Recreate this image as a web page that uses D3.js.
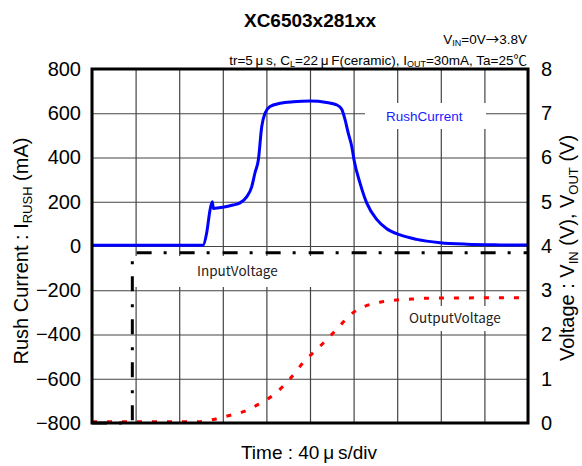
<!DOCTYPE html>
<html><head><meta charset="utf-8">
<script src="https://cdn.jsdelivr.net/npm/d3@7"></script>
<style>
html,body{margin:0;padding:0;background:#fff;}
svg{display:block;font-family:"Liberation Sans",Arial,sans-serif;}
</style></head>
<body>
<svg id="chart" width="582" height="466"></svg>
<script>
// ---- data ----
const timeTicks = [0,40,80,120,160,200,240,280,320,360,400]; // µs (40 µs/div)
const currentTicks = [-800,-600,-400,-200,0,200,400,600,800];
const voltageTicks = [0,1,2,3,4,5,6,7,8];

const rushT = [0,99,102,105.2,108.3,110.4,111.3,120.2,129.3,135.8,141.9,146.5,149.5,152.6,155.7,158.7,163.3,172.5,184.7,200,215.3,224.5,229.1,232.1,235.1,238.3,240.4,245.9,252,261.2,270.4,282.6,297.9,319.3,343.8,374.3,400];
const rushI = [3,3,4,59,163,200,170,175,185,195,222,267,330,389,539,600,630,645,652,655,649,638,618,572,510,450,389,284,195,120,78,50,30,15,8,5,4];

const vinT = [0,37,37,400];
const vinV = [0,0,3.85,3.85];

const voutT = [0,99,111.3,125,138.8,152.6,167.9,181.7,195.4,206.1,216.8,227.5,237.3,249.5,264.2,279.5,293.3,307,334.6,362.1,400];
const voutV = [0.03,0.03,0.08,0.165,0.255,0.42,0.66,1.0,1.41,1.66,1.92,2.2,2.45,2.63,2.73,2.78,2.8,2.82,2.825,2.83,2.83];

// ---- layout ----
const L = 92, R = 528, T = 69, B = 423;
const svg = d3.select("#chart");
const x = d3.scaleLinear().domain([0,400]).range([L,R]);
const yL = d3.scaleLinear().domain([-800,800]).range([B,T]);
const yR = d3.scaleLinear().domain([0,8]).range([B,T]);
const JP = "'Noto Sans CJK JP','Liberation Sans',sans-serif";

// grid
svg.append("g").attr("transform",`translate(0,${B})`)
  .call(d3.axisBottom(x).tickValues(timeTicks).tickSize(-(B-T)).tickFormat(""))
  .call(g=>g.select(".domain").remove())
  .call(g=>g.selectAll("line").attr("stroke","#444").attr("stroke-width",1.2));
svg.append("g").attr("transform",`translate(${L},0)`)
  .call(d3.axisLeft(yL).tickValues(currentTicks).tickSize(-(R-L)).tickFormat(""))
  .call(g=>g.select(".domain").remove())
  .call(g=>g.selectAll("line").attr("stroke","#444").attr("stroke-width",1.2));

// label boxes (cover grid)
const boxes = [
  {x0:365,x1:486,y0:103,y1:129,text:"RushCurrent",tx:386,color:"#1a1aff",font:"'Liberation Sans',Arial,sans-serif",size:13.5},
  {x0:135,x1:340,y0:256,y1:287,text:"InputVoltage",tx:197,color:"#222",font:JP,size:13.5},
  {x0:400,x1:526,y0:306,y1:331,text:"OutputVoltage",tx:409,color:"#222",font:JP,size:13.5}
];
boxes.forEach(b=>{
  svg.append("rect").attr("x",b.x0).attr("y",b.y0).attr("width",b.x1-b.x0).attr("height",b.y1-b.y0).attr("fill","#fff");
  svg.append("text").attr("x",b.tx).attr("y",(b.y0+b.y1)/2).attr("dy","0.35em")
    .attr("font-family",b.font).attr("font-size",b.size).attr("fill",b.color).text(b.text);
});

// curves
const lineI = d3.line().x((d,i)=>x(rushT[i])).y(d=>yL(d)).curve(d3.curveMonotoneX);
const lineVin = d3.line().x((d,i)=>x(vinT[i])).y(d=>yR(d));
const lineVout = d3.line().x((d,i)=>x(voutT[i])).y(d=>yR(d)).curve(d3.curveMonotoneX);

svg.append("path").attr("d",lineVout(voutV)).attr("fill","none").attr("stroke","#ff0000")
  .attr("stroke-width",3).attr("stroke-dasharray","5,10");
svg.append("path").attr("d",lineVin(vinV)).attr("fill","none").attr("stroke","#000")
  .attr("stroke-width",3).attr("stroke-dasharray","15,12,3,13");
svg.append("path").attr("d",lineI(rushI)).attr("fill","none").attr("stroke","#0000ff")
  .attr("stroke-width",3).attr("stroke-linejoin","round");

// frame
svg.append("rect").attr("x",L).attr("y",T).attr("width",R-L).attr("height",B-T)
  .attr("fill","none").attr("stroke","#000").attr("stroke-width",3);

// axes labels
const fmt = d => d<0 ? "\u2212"+Math.abs(d) : String(d);
svg.append("g").attr("transform",`translate(${L},0)`)
  .call(d3.axisLeft(yL).tickValues(currentTicks).tickSize(0).tickPadding(11).tickFormat(fmt))
  .call(g=>g.select(".domain").remove())
  .call(g=>g.selectAll("text").attr("font-size",20).attr("font-family","Liberation Sans, Arial, sans-serif").attr("fill","#000"));
svg.append("g").attr("transform",`translate(${R},0)`)
  .call(d3.axisRight(yR).tickValues(voltageTicks).tickSize(0).tickPadding(13).tickFormat(d3.format("d")))
  .call(g=>g.select(".domain").remove())
  .call(g=>g.selectAll("text").attr("font-size",20).attr("font-family","Liberation Sans, Arial, sans-serif").attr("fill","#000"));

// titles
svg.append("text").attr("x",310).attr("y",27).attr("text-anchor","middle")
  .attr("font-size",19).attr("font-weight","bold").text("XC6503x281xx");

const t1 = svg.append("text").attr("x",527).attr("y",44).attr("text-anchor","end").attr("font-size",13.5);
t1.append("tspan").text("V");
t1.append("tspan").attr("font-size",9).attr("dy",2).text("IN");
t1.append("tspan").attr("dy",-2).text("=0V");
t1.append("tspan").attr("font-family",JP).text("\u2192");
t1.append("tspan").text("3.8V");

const t2 = svg.append("text").attr("x",527).attr("y",65).attr("text-anchor","end").attr("font-size",13.5);
t2.append("tspan").text("tr=5\u2009\u03bc\u2009s, C");
t2.append("tspan").attr("font-size",9).attr("dy",2).text("L");
t2.append("tspan").attr("dy",-2).text("=22\u2009\u03bc\u2009F(ceramic), I");
t2.append("tspan").attr("font-size",9).attr("dy",2).text("OUT");
t2.append("tspan").attr("dy",-2).text("=30mA, Ta=25");
t2.append("tspan").attr("font-family",JP).text("\u2103");

// axis titles
const yl = svg.append("text").attr("transform","translate(28,251) rotate(-90)")
  .attr("text-anchor","middle").attr("font-size",20);
yl.append("tspan").text("Rush Current : I");
yl.append("tspan").attr("font-size",13).attr("dy",4).text("RUSH");
yl.append("tspan").attr("dy",-4).text(" (mA)");

const yr = svg.append("text").attr("transform","translate(574,248) rotate(-90)")
  .attr("text-anchor","middle").attr("font-size",20);
yr.append("tspan").text("Voltage : V");
yr.append("tspan").attr("font-size",13).attr("dy",4).text("IN");
yr.append("tspan").attr("dy",-4).text(" (V), V");
yr.append("tspan").attr("font-size",13).attr("dy",4).text("OUT");
yr.append("tspan").attr("dy",-4).text(" (V)");

svg.append("text").attr("x",309).attr("y",459).attr("text-anchor","middle")
  .attr("font-size",19).text("Time : 40\u2009\u03bc\u2009s/div");
</script>
</body></html>
